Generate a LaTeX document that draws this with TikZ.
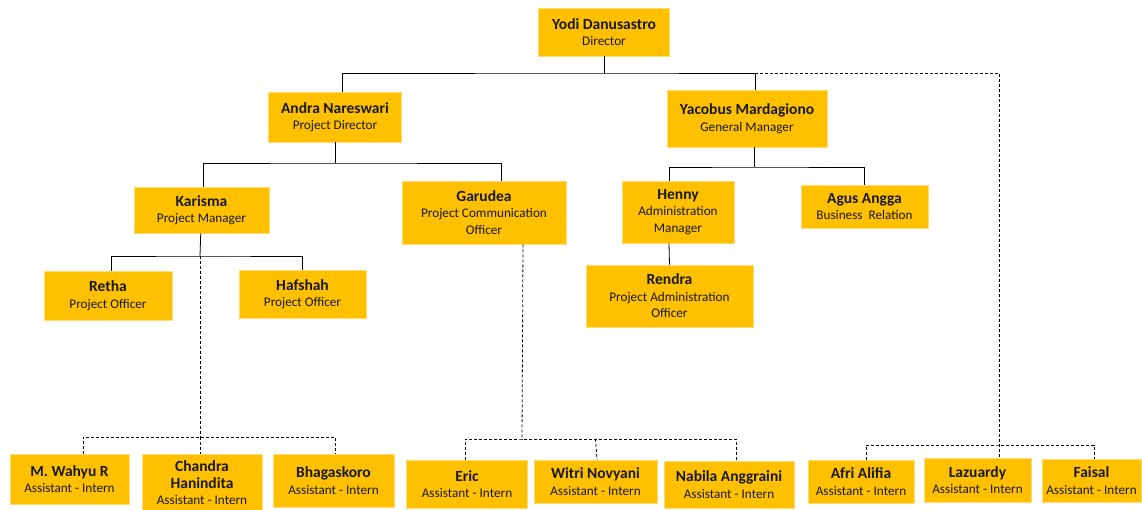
\documentclass[tikz,border=0pt]{standalone}
\usepackage{fontspec}
\setmainfont{Carlito}
\usepackage{tikz}

\definecolor{gold}{RGB}{255,192,0}
\newcommand{\who}[1]{{\fontsize{15.5}{16.5}\selectfont\bfseries #1}}

\tikzset{
  box/.style={rectangle,fill=gold,draw=gold!55!white,line width=0.6pt,
    align=center,inner sep=1pt,text=black!90,font=\fontsize{13.2}{16.5}\selectfont},
  wh/.style n args={2}{minimum width=#1pt,minimum height=#2pt}
}

\begin{document}
\begin{tikzpicture}[x=1pt,y=-1pt]
      \useasboundingbox (0,0) rectangle (1142,509);

      \begin{scope}[every node/.style={box}]
        \node[wh={131}{48}]  (yodi)     at (604,32)    {\who{Yodi Danusastro}\\Director};
        \node[wh={133}{50}]  (andra)    at (335,117)   {\who{Andra Nareswari}\\Project Director};
        \node[wh={160}{57}]  (yacobus)  at (747,118.5) {\who{Yacobus Mardagiono}\\General Manager};
        \node[wh={135}{46}]  (karisma)  at (201.5,210) {\who{Karisma}\\Project Manager};
        \node[wh={164}{63}]  (garudea)  at (484,212.5) {\who{Garudea}\\Project Communication\\Officer};
        \node[wh={112}{62}]  (henny)    at (678,212)   {\who{Henny}\\Administration\\Manager};
        \node[wh={127}{43}]  (agus)     at (864.5,206.5) {\who{Agus Angga}\\Business~~Relation};
        \node[wh={167}{62}]  (rendra)   at (669.5,296) {\who{Rendra}\\Project Administration\\Officer};
        \node[wh={128}{49}]  (retha)    at (108,295.5) {\who{Retha}\\Project Officer};
        \node[wh={127}{48}]  (hafshah)  at (302.5,294) {\who{Hafshah}\\Project Officer};
        \node[wh={119}{50}]  (wahyu)    at (69.5,479)  {\who{M. Wahyu R}\\Assistant - Intern};
        \node[wh={120}{58}]  (chandra)  at (202,483)   {\who{Chandra}\\\who{Hanindita}\\Assistant - Intern};
        \node[wh={121}{53}]  (bhagas)   at (333.5,480.5) {\who{Bhagaskoro}\\Assistant - Intern};
        \node[wh={121}{48}]  (eric)     at (467,484)   {\who{Eric}\\Assistant - Intern};
        \node[wh={123}{43}]  (witri)    at (595.5,481.5) {\who{Witri Novyani}\\Assistant - Intern};
        \node[wh={130}{47}]  (nabila)   at (729,484.5) {\who{Nabila Anggraini}\\Assistant - Intern};
        \node[wh={106}{43}]  (afri)     at (861,481.5) {\who{Afri Alifia}\\Assistant - Intern};
        \node[wh={107}{44}]  (lazuardy) at (977.5,480) {\who{Lazuardy}\\Assistant - Intern};
        \node[wh={99}{43}]   (faisal)   at (1091.5,480.5) {\who{Faisal}\\Assistant - Intern};
      \end{scope}

      % bus points
      \coordinate (top)  at (604,73);
      \coordinate (abus) at (335,163);
      \coordinate (kbus) at (200,256);
      \coordinate (ybus) at (754,167);
      \coordinate (kd)   at (200,437);
      \coordinate (gd)   at (522,439);
      \coordinate (rd)   at (999,445);

      \begin{scope}[line width=0.8pt]
        \draw (yodi) -- (top);
        \draw ([xshift=7pt]andra.north) |- (top) -| ([xshift=8pt]yacobus.north);
        \draw (andra) -- (abus);
        \draw ([xshift=2pt]karisma.north) |- (abus) -| ([xshift=17pt]garudea.north);
        \draw (karisma) -- (kbus);
        \draw ([xshift=3pt]retha.north) |- (kbus) -| (hafshah.north);
        \draw ([xshift=7pt]yacobus.south) -- (ybus);
        \draw ([xshift=-9pt]henny.north) |- (ybus) -| (agus.north);
        \draw ([xshift=-9pt]henny.south) -- (rendra.north);
      \end{scope}

      \begin{scope}[line width=0.8pt,dashed,dash pattern=on 3pt off 2pt]
        \draw (kbus) -- (kd);
        \draw ([xshift=13.5pt]wahyu.north) |- (kd) -| ([xshift=1.5pt]bhagas.north);
        \draw (kd) -- ([xshift=-2pt]chandra.north);
        \draw ([xshift=39pt]garudea.south) -- (gd);
        \draw ([xshift=-2pt]eric.north) |- (gd) -| ([xshift=7pt]nabila.north);
        \draw (witri.north |- gd) -- ([xshift=1.5pt]witri.north);
        \draw ([xshift=8pt]yacobus.north |- top) -| ([xshift=21.5pt]lazuardy.north);
        \draw ([xshift=5pt]afri.north) |- (rd) -| ([xshift=2.5pt]faisal.north);
      \end{scope}

    \end{tikzpicture}
\end{document}
